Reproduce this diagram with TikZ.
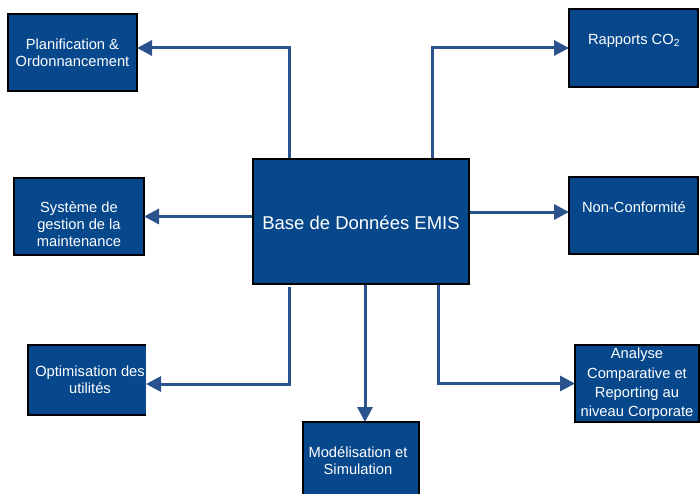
\documentclass[tikz,border=0pt]{standalone}
\usepackage{fontspec}
\setmainfont{Liberation Sans}
\usetikzlibrary{arrows.meta}
\definecolor{boxblue}{RGB}{7,72,140}
\definecolor{linkblue}{RGB}{42,82,140}
\begin{document}
\begin{tikzpicture}[x=1pt,y=-1pt,
  box/.style={fill=boxblue, draw=black, line width=1.8pt, inner sep=0pt, outer sep=0pt},
  openbox/.style={fill=boxblue, draw=none, inner sep=0pt, outer sep=0pt},
  rim/.style={draw=black, line width=1.8pt},
  lbl/.style={text=white, align=center, inner sep=0pt, font=\fontsize{14.7}{17}\selectfont},
  link/.style={draw=linkblue, line width=3pt, -{Triangle[length=15pt,width=15pt]}}
]
\useasboundingbox (0,0) rectangle (700,494);
\fill[white] (0,0) rectangle (700,494);

% columns where the connectors leave the central box
\coordinate (cL) at (289,0);
\coordinate (cM) at (365,0);
\coordinate (cR) at (432,0);
\coordinate (cBR) at (438,0);

% boxes
\node[box, minimum width=216pt, minimum height=125pt] (base) at (361,221.5) {};
\node[box, minimum width=129pt, minimum height=77pt] (plan) at (72.5,52.5) {};
\node[box, minimum width=129pt, minimum height=78pt] (rap) at (633.5,48) {};
\node[box, minimum width=130pt, minimum height=77pt] (sys) at (79,216.5) {};
\node[box, minimum width=129pt, minimum height=77pt] (nc) at (633.5,215.5) {};
\node[openbox, minimum width=118pt, minimum height=70pt] (opt) at (87,380) {};
\node[box, minimum width=124pt, minimum height=77pt] (ana) at (637,383.5) {};
\node[openbox, minimum width=116pt, minimum height=72pt] (mod) at (361,458) {};

% partial outlines of the two open boxes
\draw[rim] (opt.north east) -- (opt.north west) -- (opt.south west) -- (opt.south east);
\draw[rim] (mod.south west) -- (mod.north west) -- (mod.north east) -- (mod.south east);

% connector end points
\coordinate (planIn) at ([yshift=4.5pt]plan.east);
\coordinate (ncIn) at ([yshift=3.5pt]nc.west);
\coordinate (optIn) at ([yshift=-4pt]opt.east);

% connectors
\draw[link] (base.north -| cL) |- (planIn);
\draw[link] (base.north -| cR) |- (rap.west);
\draw[link] (base.west |- sys.east) -- (sys.east);
\draw[link] (base.east |- ncIn) -- (ncIn);
\draw[link, shorten <=3pt] (base.south -| cL) |- (optIn);
\draw[link] (base.south -| cM) -- (mod.north -| cM);
\draw[link] (base.south -| cBR) |- (ana.west);

% redraw the central outline over the connector ends
\draw[rim] (base.north west) rectangle (base.south east);

% texts
\node[lbl, font=\fontsize{18.5}{22}\selectfont] (baseT) at (361,222.5) {Base de Données EMIS};
\node[lbl] (planT) at (72.5,53) {Planification \&\\Ordonnancement};
\node[lbl] (rapT) at (634,41) {Rapports CO\textsubscript{2}};
\node[lbl] (sysT) at (79,224.5) {Système de\\gestion de la\\maintenance};
\node[lbl] (ncT) at (634,207) {Non-Conformité};
\node[lbl] (optT) at (90,380) {Optimisation des\\utilités};
\node[lbl, font=\fontsize{14.7}{19.3}\selectfont] (anaT) at (637,384) {Analyse\\Comparative et\\Reporting au\\niveau Corporate};
\node[lbl] (modT) at (358,461) {Modélisation et\\Simulation};
\end{tikzpicture}
\end{document}
